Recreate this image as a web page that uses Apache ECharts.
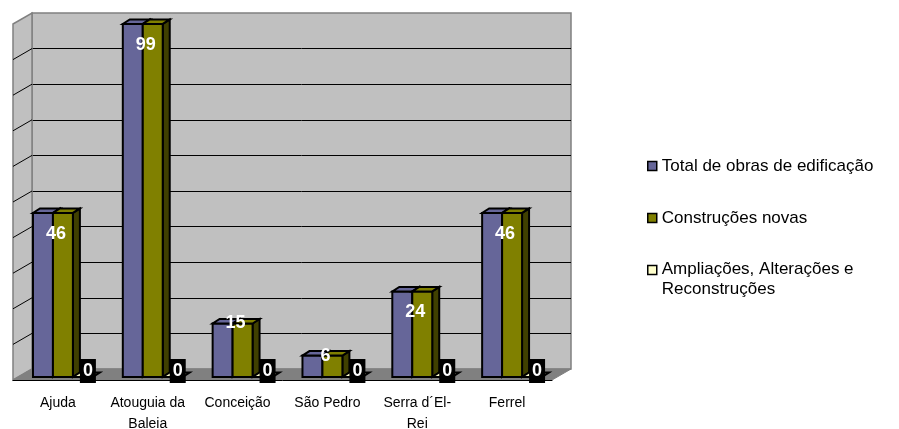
<!DOCTYPE html>
<html>
<head>
<meta charset="utf-8">
<script src="https://cdn.jsdelivr.net/npm/echarts@6/dist/echarts.min.js"></script>
<style>
	html, body { margin: 0; padding: 0; background: #fff; }
	#chart { width: 899px; height: 429px; }
</style>
</head>
<body>
<div id="chart"></div>
<script>
const categories = ['Ajuda', 'Atouguia da\nBaleia', 'Conceição', 'São Pedro', 'Serra d´El-\nRei', 'Ferrel']
const seriesNames = ['Total de obras de edificação', 'Construções novas', 'Ampliações, Alterações e Reconstruções']
const totalObras = [46, 99, 15, 6, 24, 46]
const construcoesNovas = [46, 99, 15, 6, 24, 46]
const ampliacoes = [0, 0, 0, 0, 0, 0]
const yMax = 100
const yStep = 10

const FONT = 'Liberation Sans, Arial, sans-serif'
const colors = ['#666699', '#808000', '#ffffcc']
const sideColors = ['#44446a', '#404000', '#c0c0a0']
// bars sit a little behind the front edge of the floor
const SHIFT = [5, -3]
const DEPTH = [7, -4.5]
// back wall -> front edge of the floor
const FLOOR = [-19, 11]

function barItem(idx) {
	return function (params, api) {
		const ci = api.value(0)
		const v = api.value(1)
		const base = api.coord([ci, 0])
		const tip = api.coord([ci, v])
		const w = api.size([1, 0])[0] * 2 / 9
		const x0 = base[0] + SHIFT[0] + (idx - 1.5) * w
		const y0 = base[1] + SHIFT[1]
		const y1 = tip[1] + SHIFT[1]
		const dx = DEPTH[0], dy = DEPTH[1]
		const stroke = { stroke: '#000', lineWidth: 2, lineJoin: 'miter' }
		const children = []
		if (y0 - y1 > 0.5) {
			children.push({
				type: 'polygon',
				shape: { points: [[x0 + w, y1], [x0 + w + dx, y1 + dy], [x0 + w + dx, y0 + dy], [x0 + w, y0]] },
				style: Object.assign({ fill: sideColors[idx] }, stroke)
			})
			children.push({
				type: 'rect',
				shape: { x: x0, y: y1, width: w, height: y0 - y1 },
				style: Object.assign({ fill: colors[idx] }, stroke)
			})
		}
		children.push({
			type: 'polygon',
			shape: { points: [[x0, y1], [x0 + w, y1], [x0 + w + dx, y1 + dy], [x0 + dx, y1 + dy]] },
			style: Object.assign({ fill: colors[idx] }, stroke)
		})
		if (idx === 1) {
			const h = y0 - y1
			children.push({
				type: 'text',
				x: x0 + 3,
				y: h >= 80 ? y1 + 21 : y1,
				style: {
					text: String(v), fill: '#fff', fontSize: 18, fontWeight: 'bold', fontFamily: FONT,
					align: 'center', verticalAlign: 'middle'
				}
			})
		}
		if (idx === 2) {
			children.push({
				type: 'text',
				x: x0 + 15,
				y: y0 - 6,
				style: {
					text: String(v), fill: '#fff', fontSize: 18, fontWeight: 'bold', fontFamily: FONT,
					align: 'center', verticalAlign: 'middle', lineHeight: 18,
					backgroundColor: '#000', padding: [3, 3]
				}
			})
		}
		return { type: 'group', children: children }
	}
}

// side wall, floor and the slanted grid lines on the side wall
function wallsItem(params, api) {
	const bl = api.coord([0, 0])
	const tl = api.coord([0, yMax])
	const br = api.coord([1, 0])
	const f = (p) => [p[0] + FLOOR[0], p[1] + FLOOR[1]]
	const children = [{
		type: 'polygon',
		shape: { points: [f(tl), tl, bl, f(bl)] },
		style: { fill: '#c0c0c0', stroke: '#808080', lineWidth: 1.5 }
	}, {
		type: 'polygon',
		shape: { points: [bl, br, f(br), f(bl)] },
		style: { fill: '#808080', stroke: '#808080', lineWidth: 1 }
	}]
	for (let v = yStep; v < yMax; v += yStep) {
		const p = api.coord([0, v])
		const q = f(p)
		children.push({
			type: 'line',
			shape: { x1: q[0], y1: q[1], x2: p[0], y2: p[1] },
			style: { stroke: '#000', lineWidth: 1 }
		})
	}
	return { type: 'group', children: children }
}

const chart = echarts.init(document.getElementById('chart'), null, { renderer: 'canvas' })

chart.setOption({
	animation: false,
	backgroundColor: '#fff',
	textStyle: { fontFamily: FONT },
	legend: {
		orient: 'vertical',
		left: 647,
		top: 146,
		padding: 0,
		itemWidth: 9,
		itemHeight: 9,
		itemGap: 12,
		selectedMode: false,
		textStyle: {
			fontSize: 17, color: '#000', fontFamily: FONT, lineHeight: 40,
			rich: {
				a: { fontSize: 17, color: '#000', fontFamily: FONT, lineHeight: 38 },
				b: { fontSize: 17, color: '#000', fontFamily: FONT, lineHeight: 2 }
			}
		},
		formatter: function (name) {
			if (name === seriesNames[2]) {
				return '{a|Ampliações, Alterações e}\n{b|Reconstruções}'
			}
			return name
		},
		data: seriesNames.map((n, i) => ({
			name: n,
			icon: 'rect',
			itemStyle: { color: colors[i], borderColor: '#000', borderWidth: 1.5 }
		}))
	},
	grid: [{
		// front edge of the floor
		left: 13, right: 347, top: 23.4, bottom: 49,
		outerBoundsMode: 'none'
	}, {
		// back wall
		left: 32, right: 328, top: 13, bottom: 60,
		show: true,
		backgroundColor: '#c0c0c0',
		borderColor: '#808080',
		borderWidth: 1.5,
		outerBoundsMode: 'none'
	}],
	xAxis: [{
		type: 'category',
		gridIndex: 0,
		data: categories,
		z: 5,
		axisLine: { lineStyle: { color: '#000', width: 1 } },
		axisTick: { length: 6, lineStyle: { color: '#000' } },
		axisLabel: {
			interval: 0, color: '#000', fontSize: 14, fontFamily: FONT,
			lineHeight: 21, margin: 13
		},
		splitLine: { show: false }
	}, {
		type: 'value',
		gridIndex: 1,
		min: 0,
		max: 1,
		show: false
	}],
	yAxis: [{
		type: 'value',
		gridIndex: 0,
		min: 0,
		max: yMax,
		interval: yStep,
		show: false
	}, {
		type: 'value',
		gridIndex: 1,
		min: 0,
		max: yMax,
		interval: yStep,
		axisLine: { show: false },
		axisTick: { show: false },
		axisLabel: { show: false },
		splitLine: { show: true, showMinLine: false, showMaxLine: false, lineStyle: { color: '#000', width: 1 } }
	}],
	series: [{
		type: 'custom',
		name: 'walls',
		xAxisIndex: 1,
		yAxisIndex: 1,
		z: 1,
		silent: true,
		renderItem: wallsItem,
		data: [[0, 0]]
	}, {
		type: 'custom',
		name: seriesNames[0],
		z: 2,
		renderItem: barItem(0),
		encode: { x: 0, y: 1 },
		data: totalObras.map((v, i) => [i, v])
	}, {
		type: 'custom',
		name: seriesNames[1],
		z: 3,
		renderItem: barItem(1),
		encode: { x: 0, y: 1 },
		data: construcoesNovas.map((v, i) => [i, v])
	}, {
		type: 'custom',
		name: seriesNames[2],
		z: 4,
		renderItem: barItem(2),
		encode: { x: 0, y: 1 },
		data: ampliacoes.map((v, i) => [i, v])
	}]
})
</script>
</body>
</html>
